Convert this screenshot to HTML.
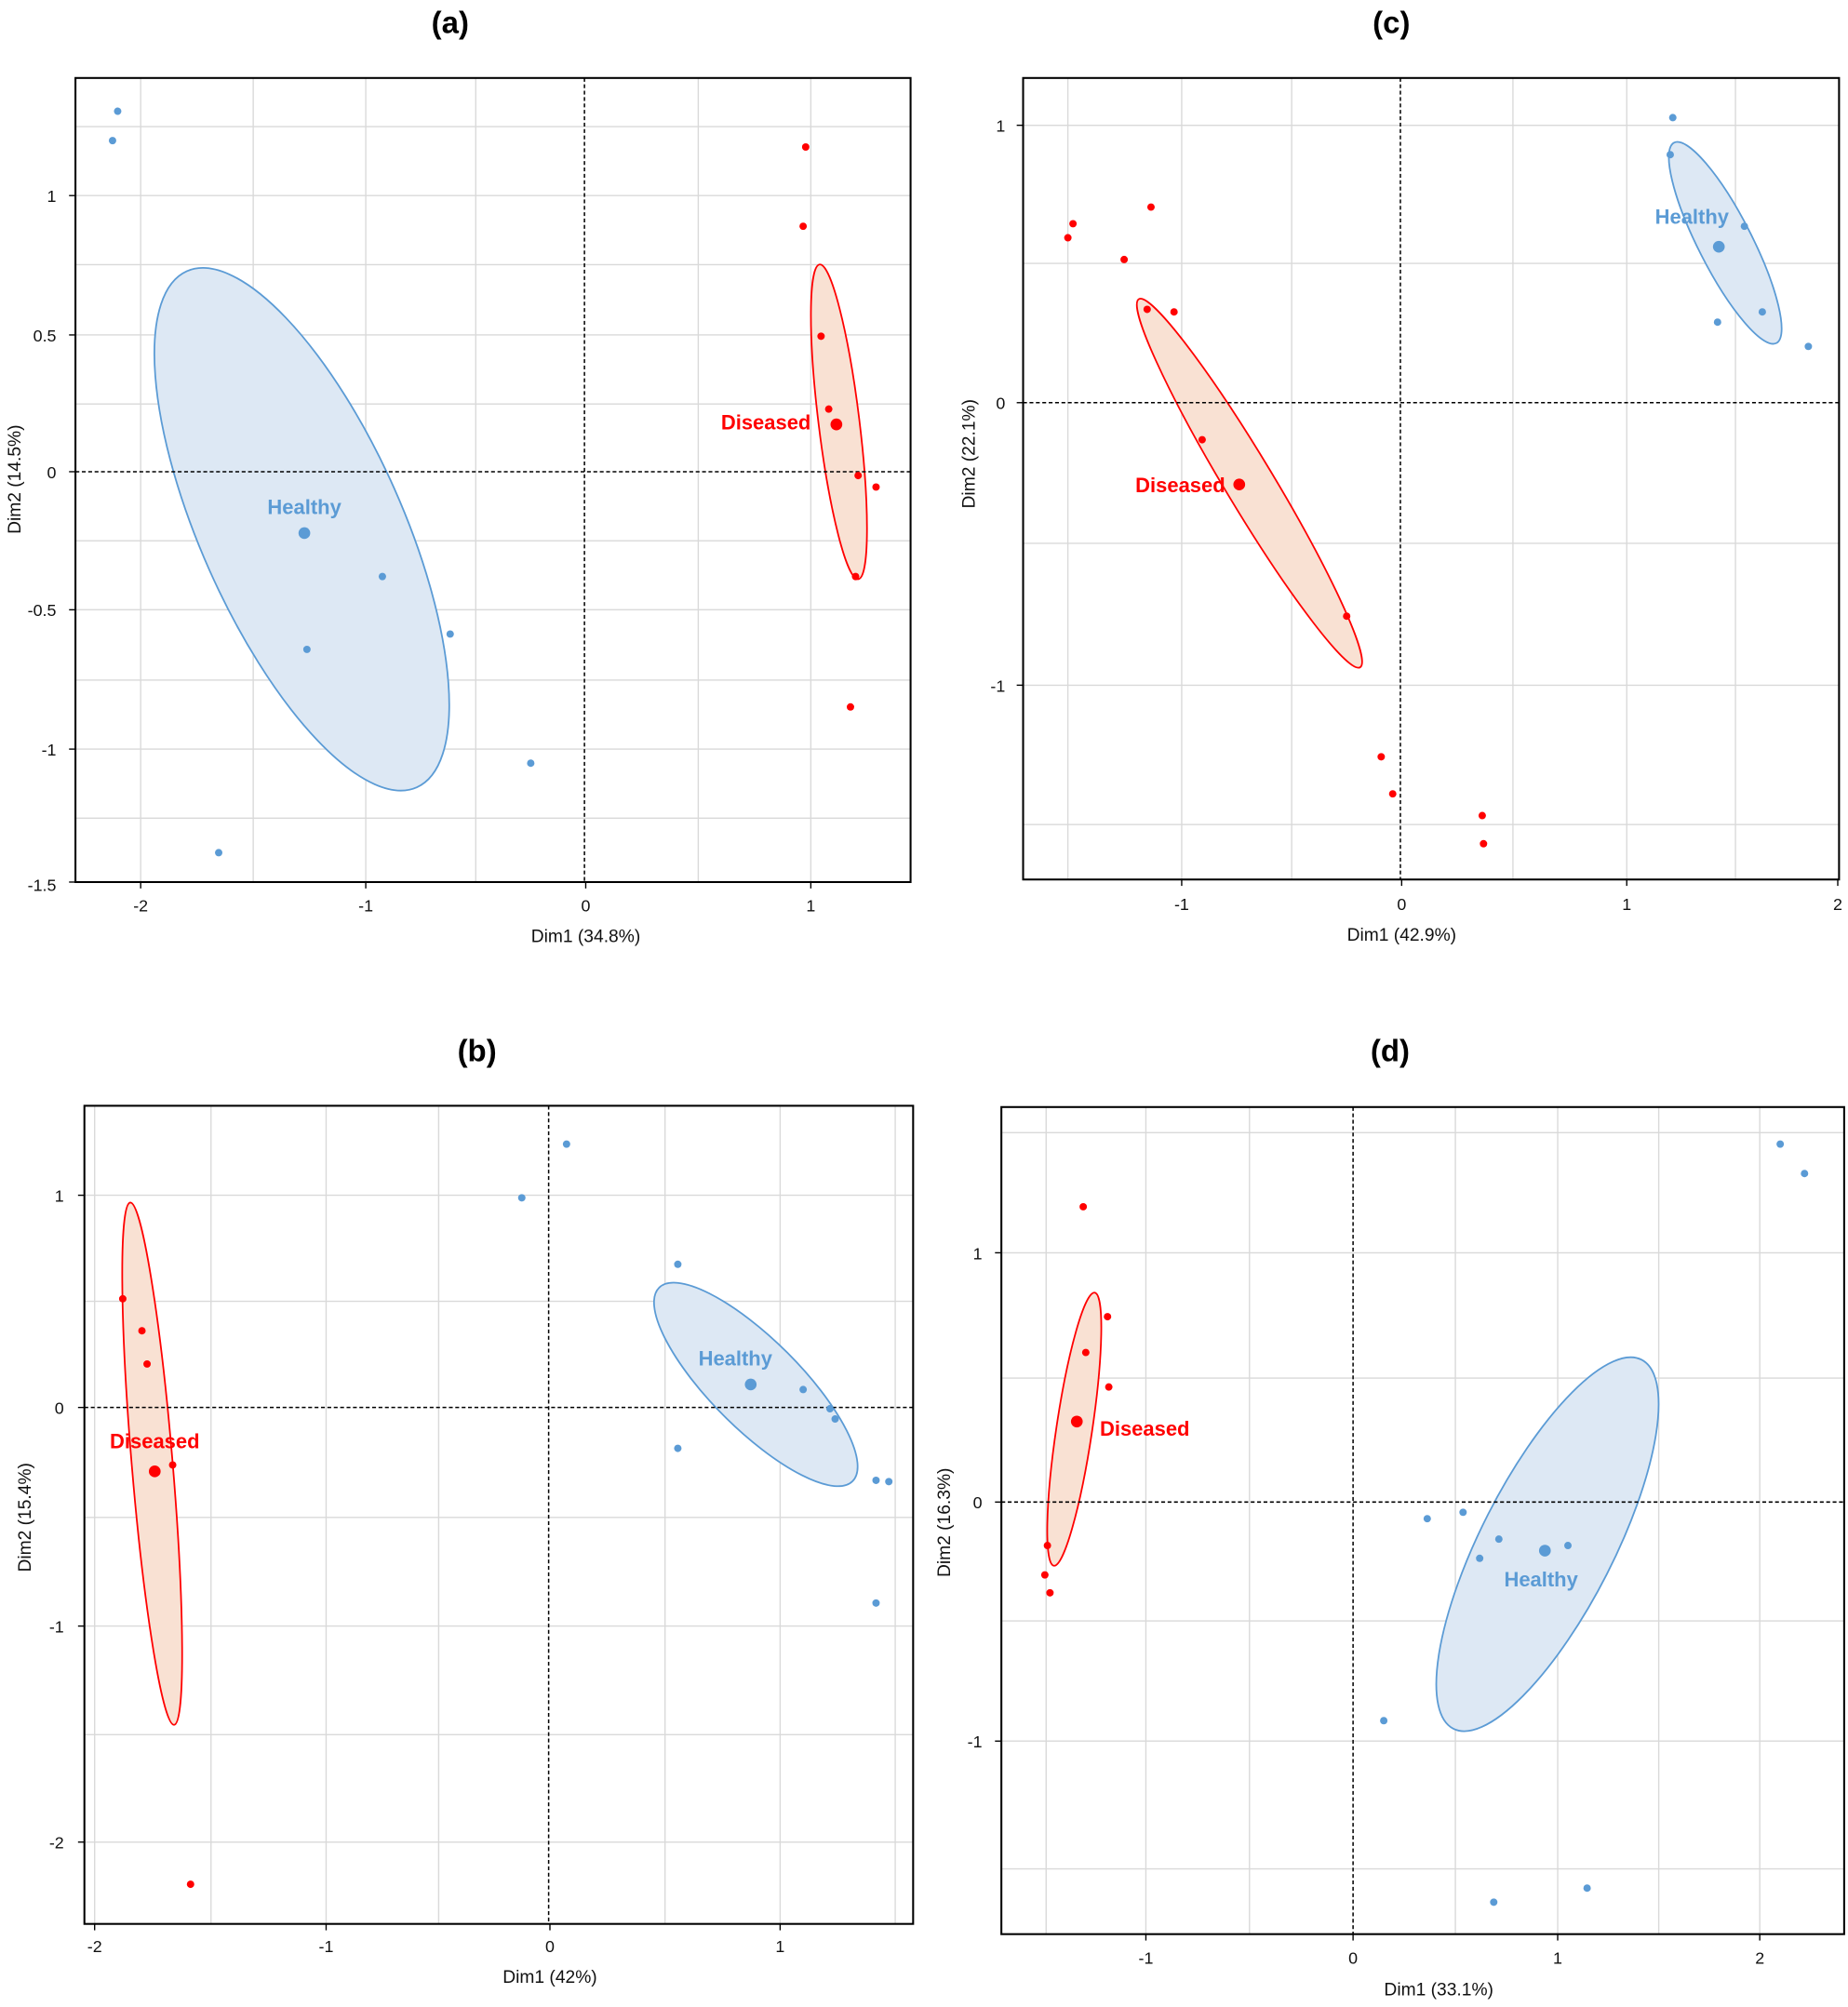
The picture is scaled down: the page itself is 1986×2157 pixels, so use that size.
<!DOCTYPE html>
<html><head><meta charset="utf-8"><style>
html,body{margin:0;padding:0;background:#fff}
svg{display:block}
text{font-family:"Liberation Sans","DejaVu Sans",sans-serif}
.t{font-size:13px;fill:#111}
.ttl{font-size:24px;font-weight:bold;fill:#000}
.g{stroke:#d9d9d9;stroke-width:1}
.ax{stroke:#000;stroke-width:1}
.d{stroke:#000;stroke-width:1.1;stroke-dasharray:3,2}
.b{fill:#5b9bd5}
.r{fill:#ff0000}
.lb{font-size:16px;font-weight:bold;fill:#5b9bd5}
.lr{font-size:16px;font-weight:bold;fill:#ff0000}
circle{r:2.9}
</style></head><body>
<svg width="1986" height="2157" viewBox="0 0 1445 1570" preserveAspectRatio="none" xmlns="http://www.w3.org/2000/svg">
<rect width="1445" height="1570" fill="#fff"/>

<!-- ===== (a) ===== -->
<text class="ttl" x="352" y="26" text-anchor="middle">(a)</text>
<g>
<line class="g" x1="110" y1="61" x2="110" y2="690"/><line class="g" x1="198" y1="61" x2="198" y2="690"/><line class="g" x1="286" y1="61" x2="286" y2="690"/><line class="g" x1="372" y1="61" x2="372" y2="690"/><line class="g" x1="546" y1="61" x2="546" y2="690"/><line class="g" x1="634" y1="61" x2="634" y2="690"/>
<line class="g" x1="59" y1="99" x2="712" y2="99"/><line class="g" x1="59" y1="153" x2="712" y2="153"/><line class="g" x1="59" y1="207" x2="712" y2="207"/><line class="g" x1="59" y1="262" x2="712" y2="262"/><line class="g" x1="59" y1="316" x2="712" y2="316"/><line class="g" x1="59" y1="423" x2="712" y2="423"/><line class="g" x1="59" y1="477" x2="712" y2="477"/><line class="g" x1="59" y1="532" x2="712" y2="532"/><line class="g" x1="59" y1="586" x2="712" y2="586"/><line class="g" x1="59" y1="640" x2="712" y2="640"/>
<ellipse cx="236" cy="414" rx="221" ry="79" transform="rotate(66 236 414)" fill="#dde8f4" stroke="#5b9bd5" stroke-width="1.3"/>
<ellipse cx="656" cy="330" rx="124" ry="16" transform="rotate(83 656 330)" fill="#f9e1d3" stroke="#ff0000" stroke-width="1.3"/>
<line class="d" x1="59" y1="369" x2="712" y2="369"/><line class="d" x1="457" y1="61" x2="457" y2="690"/>
<rect x="59" y="61" width="653" height="629" fill="none" stroke="#000" stroke-width="1.5"/>
<line class="ax" x1="54" y1="153" x2="59" y2="153"/><line class="ax" x1="54" y1="262" x2="59" y2="262"/><line class="ax" x1="54" y1="369" x2="59" y2="369"/><line class="ax" x1="54" y1="477" x2="59" y2="477"/><line class="ax" x1="54" y1="586" x2="59" y2="586"/><line class="ax" x1="54" y1="690" x2="59" y2="690"/>
<line class="ax" x1="110" y1="690" x2="110" y2="695"/><line class="ax" x1="286" y1="690" x2="286" y2="695"/><line class="ax" x1="458" y1="690" x2="458" y2="695"/><line class="ax" x1="634" y1="690" x2="634" y2="695"/>
<text class="t" x="44" y="158" text-anchor="end">1</text><text class="t" x="44" y="267" text-anchor="end">0.5</text><text class="t" x="44" y="374" text-anchor="end">0</text><text class="t" x="44" y="482" text-anchor="end">-0.5</text><text class="t" x="44" y="591" text-anchor="end">-1</text><text class="t" x="44" y="697" text-anchor="end">-1.5</text>
<text class="t" x="110" y="713" text-anchor="middle">-2</text><text class="t" x="286" y="713" text-anchor="middle">-1</text><text class="t" x="458" y="713" text-anchor="middle">0</text><text class="t" x="634" y="713" text-anchor="middle">1</text>
<text class="t" x="458" y="737" text-anchor="middle" style="font-size:14px">Dim1 (34.8%)</text>
<text class="t" transform="translate(16 375) rotate(-90)" text-anchor="middle" style="font-size:14px">Dim2 (14.5%)</text>
<circle class="b" cx="92" cy="87" r="2.9"/><circle class="b" cx="88" cy="110" r="2.9"/><circle class="b" cx="299" cy="451" r="2.9"/><circle class="b" cx="240" cy="508" r="2.9"/><circle class="b" cx="352" cy="496" r="2.9"/><circle class="b" cx="415" cy="597" r="2.9"/><circle class="b" cx="171" cy="667" r="2.9"/><circle class="b" cx="238" cy="417" r="4.6" style="r:4.6"/>
<text class="lb" x="238" y="402" text-anchor="middle">Healthy</text>
<circle class="r" cx="630" cy="115" r="2.9"/><circle class="r" cx="628" cy="177" r="2.9"/><circle class="r" cx="642" cy="263" r="2.9"/><circle class="r" cx="648" cy="320" r="2.9"/><circle class="r" cx="671" cy="372" r="2.9"/><circle class="r" cx="685" cy="381" r="2.9"/><circle class="r" cx="669" cy="451" r="2.9"/><circle class="r" cx="665" cy="553" r="2.9"/><circle class="r" cx="654" cy="332" r="4.6" style="r:4.6"/>
<text class="lr" x="634" y="336" text-anchor="end">Diseased</text>
</g>

<!-- ===== (c) ===== -->
<text class="ttl" x="1088" y="26" text-anchor="middle">(c)</text>
<g>
<line class="g" x1="835" y1="61" x2="835" y2="688"/><line class="g" x1="924" y1="61" x2="924" y2="688"/><line class="g" x1="1010" y1="61" x2="1010" y2="688"/><line class="g" x1="1183" y1="61" x2="1183" y2="688"/><line class="g" x1="1272" y1="61" x2="1272" y2="688"/><line class="g" x1="1357" y1="61" x2="1357" y2="688"/>
<line class="g" x1="800" y1="98" x2="1438" y2="98"/><line class="g" x1="800" y1="206" x2="1438" y2="206"/><line class="g" x1="800" y1="425" x2="1438" y2="425"/><line class="g" x1="800" y1="536" x2="1438" y2="536"/><line class="g" x1="800" y1="645" x2="1438" y2="645"/>
<ellipse cx="977" cy="378" rx="168" ry="19" transform="rotate(59 977 378)" fill="#f9e1d3" stroke="#ff0000" stroke-width="1.3"/>
<ellipse cx="1349" cy="190" rx="88" ry="21" transform="rotate(63 1349 190)" fill="#dde8f4" stroke="#5b9bd5" stroke-width="1.3"/>
<line class="d" x1="800" y1="315" x2="1438" y2="315"/><line class="d" x1="1095" y1="61" x2="1095" y2="688"/>
<rect x="800" y="61" width="638" height="627" fill="none" stroke="#000" stroke-width="1.5"/>
<line class="ax" x1="795" y1="98" x2="800" y2="98"/><line class="ax" x1="795" y1="315" x2="800" y2="315"/><line class="ax" x1="795" y1="536" x2="800" y2="536"/>
<line class="ax" x1="924" y1="688" x2="924" y2="693"/><line class="ax" x1="1096" y1="688" x2="1096" y2="693"/><line class="ax" x1="1272" y1="688" x2="1272" y2="693"/><line class="ax" x1="1437" y1="688" x2="1437" y2="693"/>
<text class="t" x="786" y="103" text-anchor="end">1</text><text class="t" x="786" y="320" text-anchor="end">0</text><text class="t" x="786" y="541" text-anchor="end">-1</text>
<text class="t" x="924" y="712" text-anchor="middle">-1</text><text class="t" x="1096" y="712" text-anchor="middle">0</text><text class="t" x="1272" y="712" text-anchor="middle">1</text><text class="t" x="1437" y="712" text-anchor="middle">2</text>
<text class="t" x="1096" y="736" text-anchor="middle" style="font-size:14px">Dim1 (42.9%)</text>
<text class="t" transform="translate(762 355) rotate(-90)" text-anchor="middle" style="font-size:14px">Dim2 (22.1%)</text>
<circle class="r" cx="835" cy="186" r="2.9"/><circle class="r" cx="839" cy="175" r="2.9"/><circle class="r" cx="900" cy="162" r="2.9"/><circle class="r" cx="879" cy="203" r="2.9"/><circle class="r" cx="897" cy="242" r="2.9"/><circle class="r" cx="918" cy="244" r="2.9"/><circle class="r" cx="940" cy="344" r="2.9"/><circle class="r" cx="1053" cy="482" r="2.9"/><circle class="r" cx="1080" cy="592" r="2.9"/><circle class="r" cx="1089" cy="621" r="2.9"/><circle class="r" cx="1159" cy="638" r="2.9"/><circle class="r" cx="1160" cy="660" r="2.9"/><circle class="r" cx="969" cy="379" r="4.6" style="r:4.6"/>
<text class="lr" x="958" y="385" text-anchor="end">Diseased</text>
<circle class="b" cx="1308" cy="92" r="2.9"/><circle class="b" cx="1306" cy="121" r="2.9"/><circle class="b" cx="1364" cy="177" r="2.9"/><circle class="b" cx="1343" cy="252" r="2.9"/><circle class="b" cx="1378" cy="244" r="2.9"/><circle class="b" cx="1414" cy="271" r="2.9"/><circle class="b" cx="1344" cy="193" r="4.6" style="r:4.6"/>
<text class="lb" x="1323" y="175" text-anchor="middle">Healthy</text>
</g>

<!-- ===== (b) ===== -->
<text class="ttl" x="373" y="830" text-anchor="middle">(b)</text>
<g>
<line class="g" x1="74" y1="865" x2="74" y2="1505"/><line class="g" x1="165" y1="865" x2="165" y2="1505"/><line class="g" x1="255" y1="865" x2="255" y2="1505"/><line class="g" x1="343" y1="865" x2="343" y2="1505"/><line class="g" x1="520" y1="865" x2="520" y2="1505"/><line class="g" x1="610" y1="865" x2="610" y2="1505"/><line class="g" x1="700" y1="865" x2="700" y2="1505"/>
<line class="g" x1="66" y1="935" x2="714" y2="935"/><line class="g" x1="66" y1="1018" x2="714" y2="1018"/><line class="g" x1="66" y1="1187" x2="714" y2="1187"/><line class="g" x1="66" y1="1272" x2="714" y2="1272"/><line class="g" x1="66" y1="1357" x2="714" y2="1357"/><line class="g" x1="66" y1="1441" x2="714" y2="1441"/>
<ellipse cx="591" cy="1083" rx="107" ry="35" transform="rotate(45 591 1083)" fill="#dde8f4" stroke="#5b9bd5" stroke-width="1.3"/>
<ellipse cx="119" cy="1145" rx="205" ry="16" transform="rotate(85.2 119 1145)" fill="#f9e1d3" stroke="#ff0000" stroke-width="1.3"/>
<line class="d" x1="66" y1="1101" x2="714" y2="1101"/><line class="d" x1="429" y1="865" x2="429" y2="1505"/>
<rect x="66" y="865" width="648" height="640" fill="none" stroke="#000" stroke-width="1.5"/>
<line class="ax" x1="61" y1="935" x2="66" y2="935"/><line class="ax" x1="61" y1="1101" x2="66" y2="1101"/><line class="ax" x1="61" y1="1272" x2="66" y2="1272"/><line class="ax" x1="61" y1="1441" x2="66" y2="1441"/>
<line class="ax" x1="74" y1="1505" x2="74" y2="1510"/><line class="ax" x1="255" y1="1505" x2="255" y2="1510"/><line class="ax" x1="430" y1="1505" x2="430" y2="1510"/><line class="ax" x1="610" y1="1505" x2="610" y2="1510"/>
<text class="t" x="50" y="940" text-anchor="end">1</text><text class="t" x="50" y="1106" text-anchor="end">0</text><text class="t" x="50" y="1277" text-anchor="end">-1</text><text class="t" x="50" y="1446" text-anchor="end">-2</text>
<text class="t" x="74" y="1527" text-anchor="middle">-2</text><text class="t" x="255" y="1527" text-anchor="middle">-1</text><text class="t" x="430" y="1527" text-anchor="middle">0</text><text class="t" x="610" y="1527" text-anchor="middle">1</text>
<text class="t" x="430" y="1551" text-anchor="middle" style="font-size:14px">Dim1 (42%)</text>
<text class="t" transform="translate(24 1187) rotate(-90)" text-anchor="middle" style="font-size:14px">Dim2 (15.4%)</text>
<circle class="b" cx="408" cy="937" r="2.9"/><circle class="b" cx="443" cy="895" r="2.9"/><circle class="b" cx="530" cy="989" r="2.9"/><circle class="b" cx="530" cy="1133" r="2.9"/><circle class="b" cx="628" cy="1087" r="2.9"/><circle class="b" cx="649" cy="1102" r="2.9"/><circle class="b" cx="653" cy="1110" r="2.9"/><circle class="b" cx="685" cy="1158" r="2.9"/><circle class="b" cx="695" cy="1159" r="2.9"/><circle class="b" cx="685" cy="1254" r="2.9"/><circle class="b" cx="587" cy="1083" r="4.6" style="r:4.6"/>
<text class="lb" x="575" y="1068" text-anchor="middle">Healthy</text>
<circle class="r" cx="96" cy="1016" r="2.9"/><circle class="r" cx="111" cy="1041" r="2.9"/><circle class="r" cx="115" cy="1067" r="2.9"/><circle class="r" cx="135" cy="1146" r="2.9"/><circle class="r" cx="149" cy="1474" r="2.9"/><circle class="r" cx="121" cy="1151" r="4.6" style="r:4.6"/>
<text class="lr" x="121" y="1133" text-anchor="middle">Diseased</text>
</g>

<!-- ===== (d) ===== -->
<text class="ttl" x="1087" y="830" text-anchor="middle">(d)</text>
<g>
<line class="g" x1="818" y1="866" x2="818" y2="1513"/><line class="g" x1="896" y1="866" x2="896" y2="1513"/><line class="g" x1="977" y1="866" x2="977" y2="1513"/><line class="g" x1="1138" y1="866" x2="1138" y2="1513"/><line class="g" x1="1218" y1="866" x2="1218" y2="1513"/><line class="g" x1="1297" y1="866" x2="1297" y2="1513"/><line class="g" x1="1376" y1="866" x2="1376" y2="1513"/>
<line class="g" x1="783" y1="886" x2="1442" y2="886"/><line class="g" x1="783" y1="980" x2="1442" y2="980"/><line class="g" x1="783" y1="1078" x2="1442" y2="1078"/><line class="g" x1="783" y1="1268" x2="1442" y2="1268"/><line class="g" x1="783" y1="1362" x2="1442" y2="1362"/><line class="g" x1="783" y1="1462" x2="1442" y2="1462"/>
<ellipse cx="1210" cy="1208" rx="162" ry="52" transform="rotate(-63 1210 1208)" fill="#dde8f4" stroke="#5b9bd5" stroke-width="1.3"/>
<ellipse cx="840" cy="1118" rx="108" ry="14" transform="rotate(-81.5 840 1118)" fill="#f9e1d3" stroke="#ff0000" stroke-width="1.3"/>
<line class="d" x1="783" y1="1175" x2="1442" y2="1175"/><line class="d" x1="1058" y1="866" x2="1058" y2="1513"/>
<rect x="783" y="866" width="659" height="647" fill="none" stroke="#000" stroke-width="1.5"/>
<line class="ax" x1="778" y1="980" x2="783" y2="980"/><line class="ax" x1="778" y1="1175" x2="783" y2="1175"/><line class="ax" x1="778" y1="1362" x2="783" y2="1362"/>
<line class="ax" x1="896" y1="1513" x2="896" y2="1518"/><line class="ax" x1="1058" y1="1513" x2="1058" y2="1518"/><line class="ax" x1="1218" y1="1513" x2="1218" y2="1518"/><line class="ax" x1="1376" y1="1513" x2="1376" y2="1518"/>
<text class="t" x="768" y="985" text-anchor="end">1</text><text class="t" x="768" y="1180" text-anchor="end">0</text><text class="t" x="768" y="1367" text-anchor="end">-1</text>
<text class="t" x="896" y="1536" text-anchor="middle">-1</text><text class="t" x="1058" y="1536" text-anchor="middle">0</text><text class="t" x="1218" y="1536" text-anchor="middle">1</text><text class="t" x="1376" y="1536" text-anchor="middle">2</text>
<text class="t" x="1125" y="1561" text-anchor="middle" style="font-size:14px">Dim1 (33.1%)</text>
<text class="t" transform="translate(743 1191) rotate(-90)" text-anchor="middle" style="font-size:14px">Dim2 (16.3%)</text>
<circle class="r" cx="847" cy="944" r="2.9"/><circle class="r" cx="866" cy="1030" r="2.9"/><circle class="r" cx="849" cy="1058" r="2.9"/><circle class="r" cx="867" cy="1085" r="2.9"/><circle class="r" cx="819" cy="1209" r="2.9"/><circle class="r" cx="817" cy="1232" r="2.9"/><circle class="r" cx="821" cy="1246" r="2.9"/><circle class="r" cx="842" cy="1112" r="4.6" style="r:4.6"/>
<text class="lr" x="860" y="1123">Diseased</text>
<circle class="b" cx="1392" cy="895" r="2.9"/><circle class="b" cx="1411" cy="918" r="2.9"/><circle class="b" cx="1116" cy="1188" r="2.9"/><circle class="b" cx="1144" cy="1183" r="2.9"/><circle class="b" cx="1172" cy="1204" r="2.9"/><circle class="b" cx="1157" cy="1219" r="2.9"/><circle class="b" cx="1226" cy="1209" r="2.9"/><circle class="b" cx="1082" cy="1346" r="2.9"/><circle class="b" cx="1168" cy="1488" r="2.9"/><circle class="b" cx="1241" cy="1477" r="2.9"/><circle class="b" cx="1208" cy="1213" r="4.6" style="r:4.6"/>
<text class="lb" x="1205" y="1241" text-anchor="middle">Healthy</text>
</g>
</svg>
</body></html>
